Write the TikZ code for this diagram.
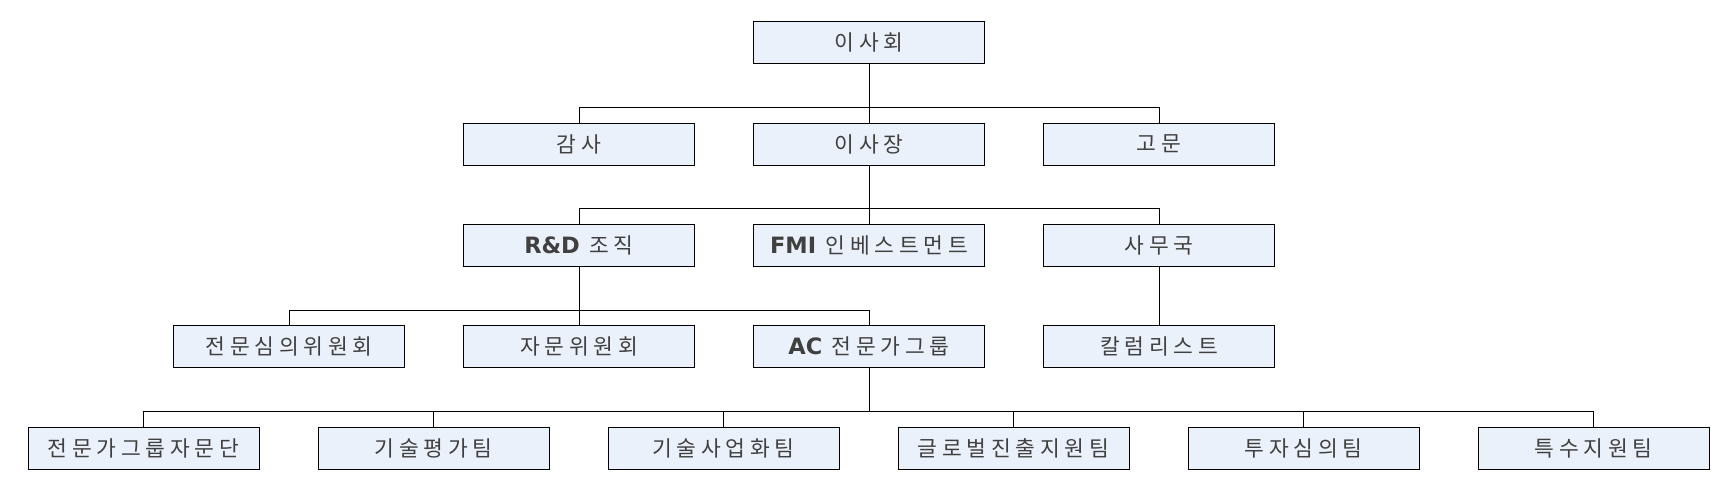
\documentclass[tikz,border=0pt]{standalone}
\usepackage{fontspec}
\setmainfont{Noto Sans CJK KR}[LetterSpace=22]
\newfontfamily\latbf{DejaVu Sans Bold}
\definecolor{boxfill}{HTML}{EAF1FB}
\definecolor{boxtext}{HTML}{404040}

\begin{document}
\begin{tikzpicture}[x=1pt,y=-1pt,line width=1pt,
    unit/.style={draw=black,fill=boxfill,text=boxtext,
      minimum width=231pt,minimum height=42pt,inner sep=0pt,
      font=\fontsize{21.5}{22}\selectfont}]
  \useasboundingbox (0,0) rectangle (1729,495);
  \draw
    (869,42.5) node[unit] (board){이사회}
    (579,144) node[unit] (audit){감사}
    (869,144) node[unit] (president){이사장}
    (1159,144) node[unit] (advisor){고문}
    (579,245.5) node[unit] (rnd){{\latbf\fontsize{22.5}{22}\selectfont R\&D} 조직}
    (869,245.5) node[unit] (fmi){{\latbf\fontsize{22.5}{22}\selectfont FMI} 인베스트먼트}
    (1159,245.5) node[unit] (office){사무국}
    (289,346.5) node[unit] (expert){전문심의위원회}
    (579,346.5) node[unit] (advice){자문위원회}
    (869,346.5) node[unit] (acgroup){{\latbf\fontsize{22.5}{22}\selectfont AC} 전문가그룹}
    (1159,346.5) node[unit] (columnist){칼럼리스트}
    (143.5,448.5) node[unit] (panel){전문가그룹자문단}
    (433.5,448.5) node[unit] (techeval){기술평가팀}
    (723.5,448.5) node[unit] (techbiz){기술사업화팀}
    (1013.5,448.5) node[unit] (global){글로벌진출지원팀}
    (1303.5,448.5) node[unit] (invest){투자심의팀}
    (1593.5,448.5) node[unit] (special){특수지원팀};
  \coordinate (bus1) at (0,107);
  \coordinate (bus2) at (0,208);
  \coordinate (bus3) at (0,310);
  \coordinate (bus4) at (0,411);
  \begin{scope}[-]
    \draw (board) to (president);
    \draw (audit.north) |- (bus1 -| advisor) -- (advisor.north);
    \draw (president) to (fmi);
    \draw (rnd.north) |- (bus2 -| office) -- (office.north);
    \draw (rnd) to (advice);
    \draw (expert.north) |- (bus3 -| acgroup) -- (acgroup.north);
    \draw (office) to (columnist);
    \draw (acgroup.south) -- (bus4 -| acgroup);
    \draw (panel.north) |- (bus4 -| special) -- (special.north);
    \draw (bus4 -| techeval) -- (techeval.north);
    \draw (bus4 -| techbiz) -- (techbiz.north);
    \draw (bus4 -| global) -- (global.north);
    \draw (bus4 -| invest) -- (invest.north);
  \end{scope}
\end{tikzpicture}
\end{document}
